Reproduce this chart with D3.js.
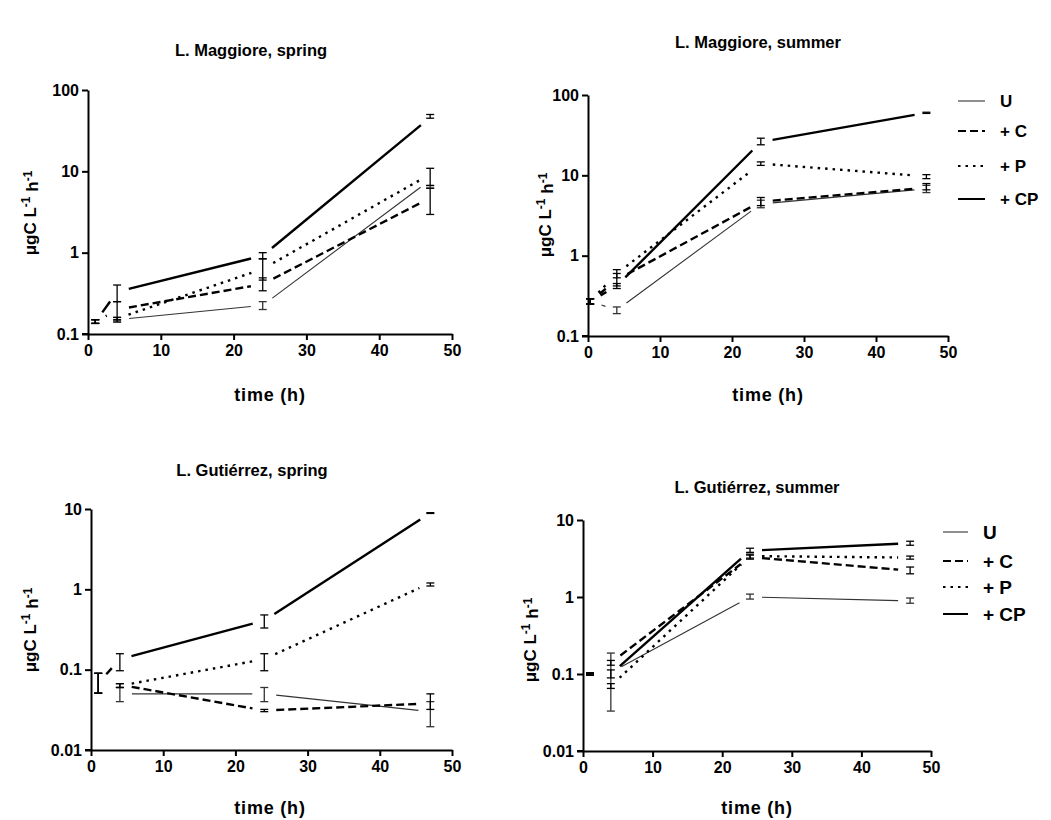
<!DOCTYPE html>
<html><head><meta charset="utf-8">
<script src="https://cdn.jsdelivr.net/npm/d3@7"></script>
<style>
body{margin:0;background:#fff;}
svg text{font-family:"Liberation Sans",Arial,sans-serif;font-weight:bold;fill:#000;}
</style></head>
<body><svg id="c" width="1051" height="820"></svg>
<script>
// ---------- data ----------
const seriesNames = ["U", "+ C", "+ P", "+ CP"];
const xTicks = [0, 10, 20, 30, 40, 50];

// L. Maggiore, spring
const msTimes = [1, 4, 24, 47];
const msU  = [0.14, 0.15, 0.225, 7.8];
const msC  = [0.14, 0.20, 0.41, 4.7];
const msP  = [0.14, 0.155, 0.63, 9.2];
const msCP = [0.14, 0.33, 0.92, 46];
const msErrU  = [[0.135,0.15],[0.145,0.16],[0.20,0.25],[6.2,6.7]];
const msErrC  = [[0.135,0.15],[0.14,0.25],[0.34,0.49],[2.95,6.2]];
const msErrP  = [[0.135,0.15],[0.15,0.16],[0.46,0.84],[6.7,10.9]];
const msErrCP = [[0.135,0.15],[0.25,0.40],[0.84,1.0],[45,50]];
const msYTicks = [0.1, 1, 10, 100];

// L. Maggiore, summer
const mmTimes = [0.3, 4, 24, 47];
const mmU  = [0.27, 0.21, 4.4, 6.8];
const mmC  = [0.27, 0.50, 4.7, 7.0];
const mmP  = [0.27, 0.60, 14, 9.7];
const mmCP = [0.27, 0.42, 26, 60];
const mmErrU  = [[0.25,0.29],[0.19,0.23],[3.95,4.9],[6.1,7.5]];
const mmErrC  = [[0.25,0.29],[0.42,0.60],[4.2,5.3],[6.6,7.9]];
const mmErrP  = [[0.25,0.29],[0.53,0.67],[13.3,14.7],[9.1,10.2]];
const mmErrCP = [[0.25,0.29],[0.39,0.45],[24,29],[59,61]];
const mmYTicks = [0.1, 1, 10, 100];

// L. Gutiérrez, spring
const gsTimes = [1, 4, 24, 47];
const gsU  = [0.068, 0.05, 0.05, 0.03];
const gsC  = [0.068, 0.065, 0.031, 0.038];
const gsP  = [0.068, 0.063, 0.135, 1.2];
const gsCP = [0.068, 0.135, 0.41, 8.9];
const gsErrU  = [[0.051,0.09],[0.04,0.06],[0.04,0.06],[0.0195,0.04]];
const gsErrC  = [[0.051,0.09],[0.06,0.067],[0.030,0.032],[0.032,0.05]];
const gsErrP  = [[0.051,0.09],[0.06,0.067],[0.097,0.158],[1.1,1.2]];
const gsErrCP = [[0.051,0.09],[0.097,0.158],[0.33,0.48],[8.8,9.0]];
const gsYTicks = [0.01, 0.1, 1, 10];

// L. Gutiérrez, summer
const gmTimes = [1, 4, 24, 47];
const gmU  = [0.10, 0.105, 1.0, 0.89];
const gmC  = [0.10, 0.14, 3.3, 2.2];
const gmP  = [0.10, 0.07, 3.4, 3.25];
const gmCP = [0.10, 0.10, 4.0, 5.0];
const gmErrU  = [[0.097,0.103],[0.033,0.187],[0.94,1.09],[0.83,0.97]];
const gmErrC  = [[0.097,0.103],[0.13,0.15],[3.1,3.5],[2.0,2.45]];
const gmErrP  = [[0.097,0.103],[0.065,0.075],[3.2,3.6],[3.1,3.4]];
const gmErrCP = [[0.097,0.103],[0.089,0.113],[3.8,4.3],[4.7,5.3]];
const gmYTicks = [0.01, 0.1, 1, 10];

// ---------- styles ----------
const styles = [
  {stroke:"#333", width:1.1, dash:null},
  {stroke:"#000", width:2.4, dash:"8,4"},
  {stroke:"#000", width:2.4, dash:"2.5,5"},
  {stroke:"#000", width:2.4, dash:null}
];

const panels = [
  {title:"L. Maggiore, spring", times:msTimes, vals:[msU,msC,msP,msCP], errs:[msErrU,msErrC,msErrP,msErrCP],
   yTicks:msYTicks, x0:88, x1:452, yTop:90, yBot:334, titleX:251, titleY:56, xtX:270, xtY:401, ylX:30, ylY:213, legend:null},
  {title:"L. Maggiore, summer", times:mmTimes, vals:[mmU,mmC,mmP,mmCP], errs:[mmErrU,mmErrC,mmErrP,mmErrCP],
   yTicks:mmYTicks, x0:588, x1:948, yTop:95, yBot:336, titleX:758, titleY:48, xtX:768, xtY:401, ylX:545, ylY:215,
   legend:{lx0:958, lx1:985, tx:1000, ys:[101,131,166,199], fs:17}},
  {title:"L. Gutiérrez, spring", times:gsTimes, vals:[gsU,gsC,gsP,gsCP], errs:[gsErrU,gsErrC,gsErrP,gsErrCP],
   yTicks:gsYTicks, x0:91, x1:452, yTop:509, yBot:750, titleX:252, titleY:476, xtX:270, xtY:814, ylX:30, ylY:630, legend:null},
  {title:"L. Gutiérrez, summer", times:gmTimes, vals:[gmU,gmC,gmP,gmCP], errs:[gmErrU,gmErrC,gmErrP,gmErrCP],
   yTicks:gmYTicks, x0:583, x1:931, yTop:520, yBot:751, titleX:757, titleY:493, xtX:757, xtY:814, ylX:530, ylY:640,
   legend:{lx0:943, lx1:968, tx:983, ys:[532,561,587,614], fs:19}}
];

const svg = d3.select("#c");
const GAP = 12;
const fmt = v => String(v);

panels.forEach(p => {
  const g = svg.append("g");
  const x = d3.scaleLinear().domain([0, 50]).range([p.x0, p.x1]);
  const y = d3.scaleLog().domain([p.yTicks[0], p.yTicks[p.yTicks.length-1]]).range([p.yBot, p.yTop]);

  // axes
  const ax = g.append("g").attr("transform", `translate(0,${p.yBot})`)
    .call(d3.axisBottom(x).tickValues(xTicks).tickSize(6).tickSizeOuter(0).tickPadding(5).tickFormat(d3.format("d")));
  const ay = g.append("g").attr("transform", `translate(${p.x0},0)`)
    .call(d3.axisLeft(y).tickValues(p.yTicks).tickSize(6).tickSizeOuter(0).tickPadding(3).tickFormat(fmt));
  [ax, ay].forEach(a => {
    a.selectAll("path.domain").attr("stroke", "#000").attr("stroke-width", 2);
    a.selectAll(".tick line").attr("stroke", "#000").attr("stroke-width", 2);
    a.selectAll(".tick text").style("font-size", "16px").style("font-weight", "bold")
      .style("font-family", '"Liberation Sans",Arial,sans-serif').attr("fill", "#000");
  });
  g.append("line").attr("x1", p.x0 - 6).attr("x2", p.x0).attr("y1", p.yBot).attr("y2", p.yBot)
    .attr("stroke", "#000").attr("stroke-width", 2);

  // lines with gaps around points
  const line = d3.line();
  p.vals.forEach((vals, si) => {
    const st = styles[si];
    for (let i = 0; i < vals.length - 1; i++) {
      const ax0 = x(p.times[i]), ay0 = y(vals[i]);
      const bx = x(p.times[i+1]), by = y(vals[i+1]);
      const dx = bx - ax0, dy = by - ay0, L = Math.hypot(dx, dy);
      if (L <= 2 * GAP + 1) continue;
      const ux = dx / L, uy = dy / L;
      g.append("path")
        .attr("d", line([[ax0 + ux*GAP, ay0 + uy*GAP], [bx - ux*GAP, by - uy*GAP]]))
        .attr("fill", "none").attr("stroke", st.stroke).attr("stroke-width", st.width)
        .attr("stroke-dasharray", st.dash);
    }
  });

  // error bars
  p.errs.forEach((errs, si) => {
    errs.forEach((e, i) => {
      const cx = x(p.times[i]);
      const y1 = y(e[0]), y2 = y(e[1]);
      const col = si === 0 ? "#333" : "#000";
      g.append("line").attr("x1", cx).attr("x2", cx).attr("y1", y1).attr("y2", y2)
        .attr("stroke", col).attr("stroke-width", 1.3);
      [y1, y2].forEach(yy => g.append("line").attr("x1", cx - 4).attr("x2", cx + 4)
        .attr("y1", yy).attr("y2", yy).attr("stroke", col).attr("stroke-width", 1.3));
    });
  });

  // titles
  g.append("text").attr("x", p.titleX).attr("y", p.titleY).attr("text-anchor", "middle")
    .style("font-size", "16.5px").text(p.title);
  g.append("text").attr("x", p.xtX).attr("y", p.xtY).attr("text-anchor", "middle")
    .style("font-size", "18px").style("letter-spacing", "0.8px").text("time (h)");
  const yl = g.append("text").attr("transform", `translate(${p.ylX},${p.ylY}) rotate(-90)`)
    .attr("text-anchor", "middle").attr("dy", "0.35em").style("font-size", "17px");
  yl.append("tspan").text("μgC L");
  yl.append("tspan").attr("dy", "-0.5em").style("font-size", "12px").text("-1");
  yl.append("tspan").attr("dy", "0.5em").text(" h");
  yl.append("tspan").attr("dy", "-0.5em").style("font-size", "12px").text("-1");

  // legend
  if (p.legend) {
    const lg = p.legend;
    seriesNames.forEach((nm, si) => {
      const st = styles[si];
      const yy = lg.ys[si];
      g.append("line").attr("x1", lg.lx0).attr("x2", lg.lx1).attr("y1", yy).attr("y2", yy)
        .attr("stroke", st.stroke).attr("stroke-width", si === 0 ? 1.1 : 2)
        .attr("stroke-dasharray", st.dash);
      g.append("text").attr("x", lg.tx).attr("y", yy).attr("dy", "0.36em")
        .style("font-size", lg.fs + "px").text(nm);
    });
  }
});
</script></body></html>
